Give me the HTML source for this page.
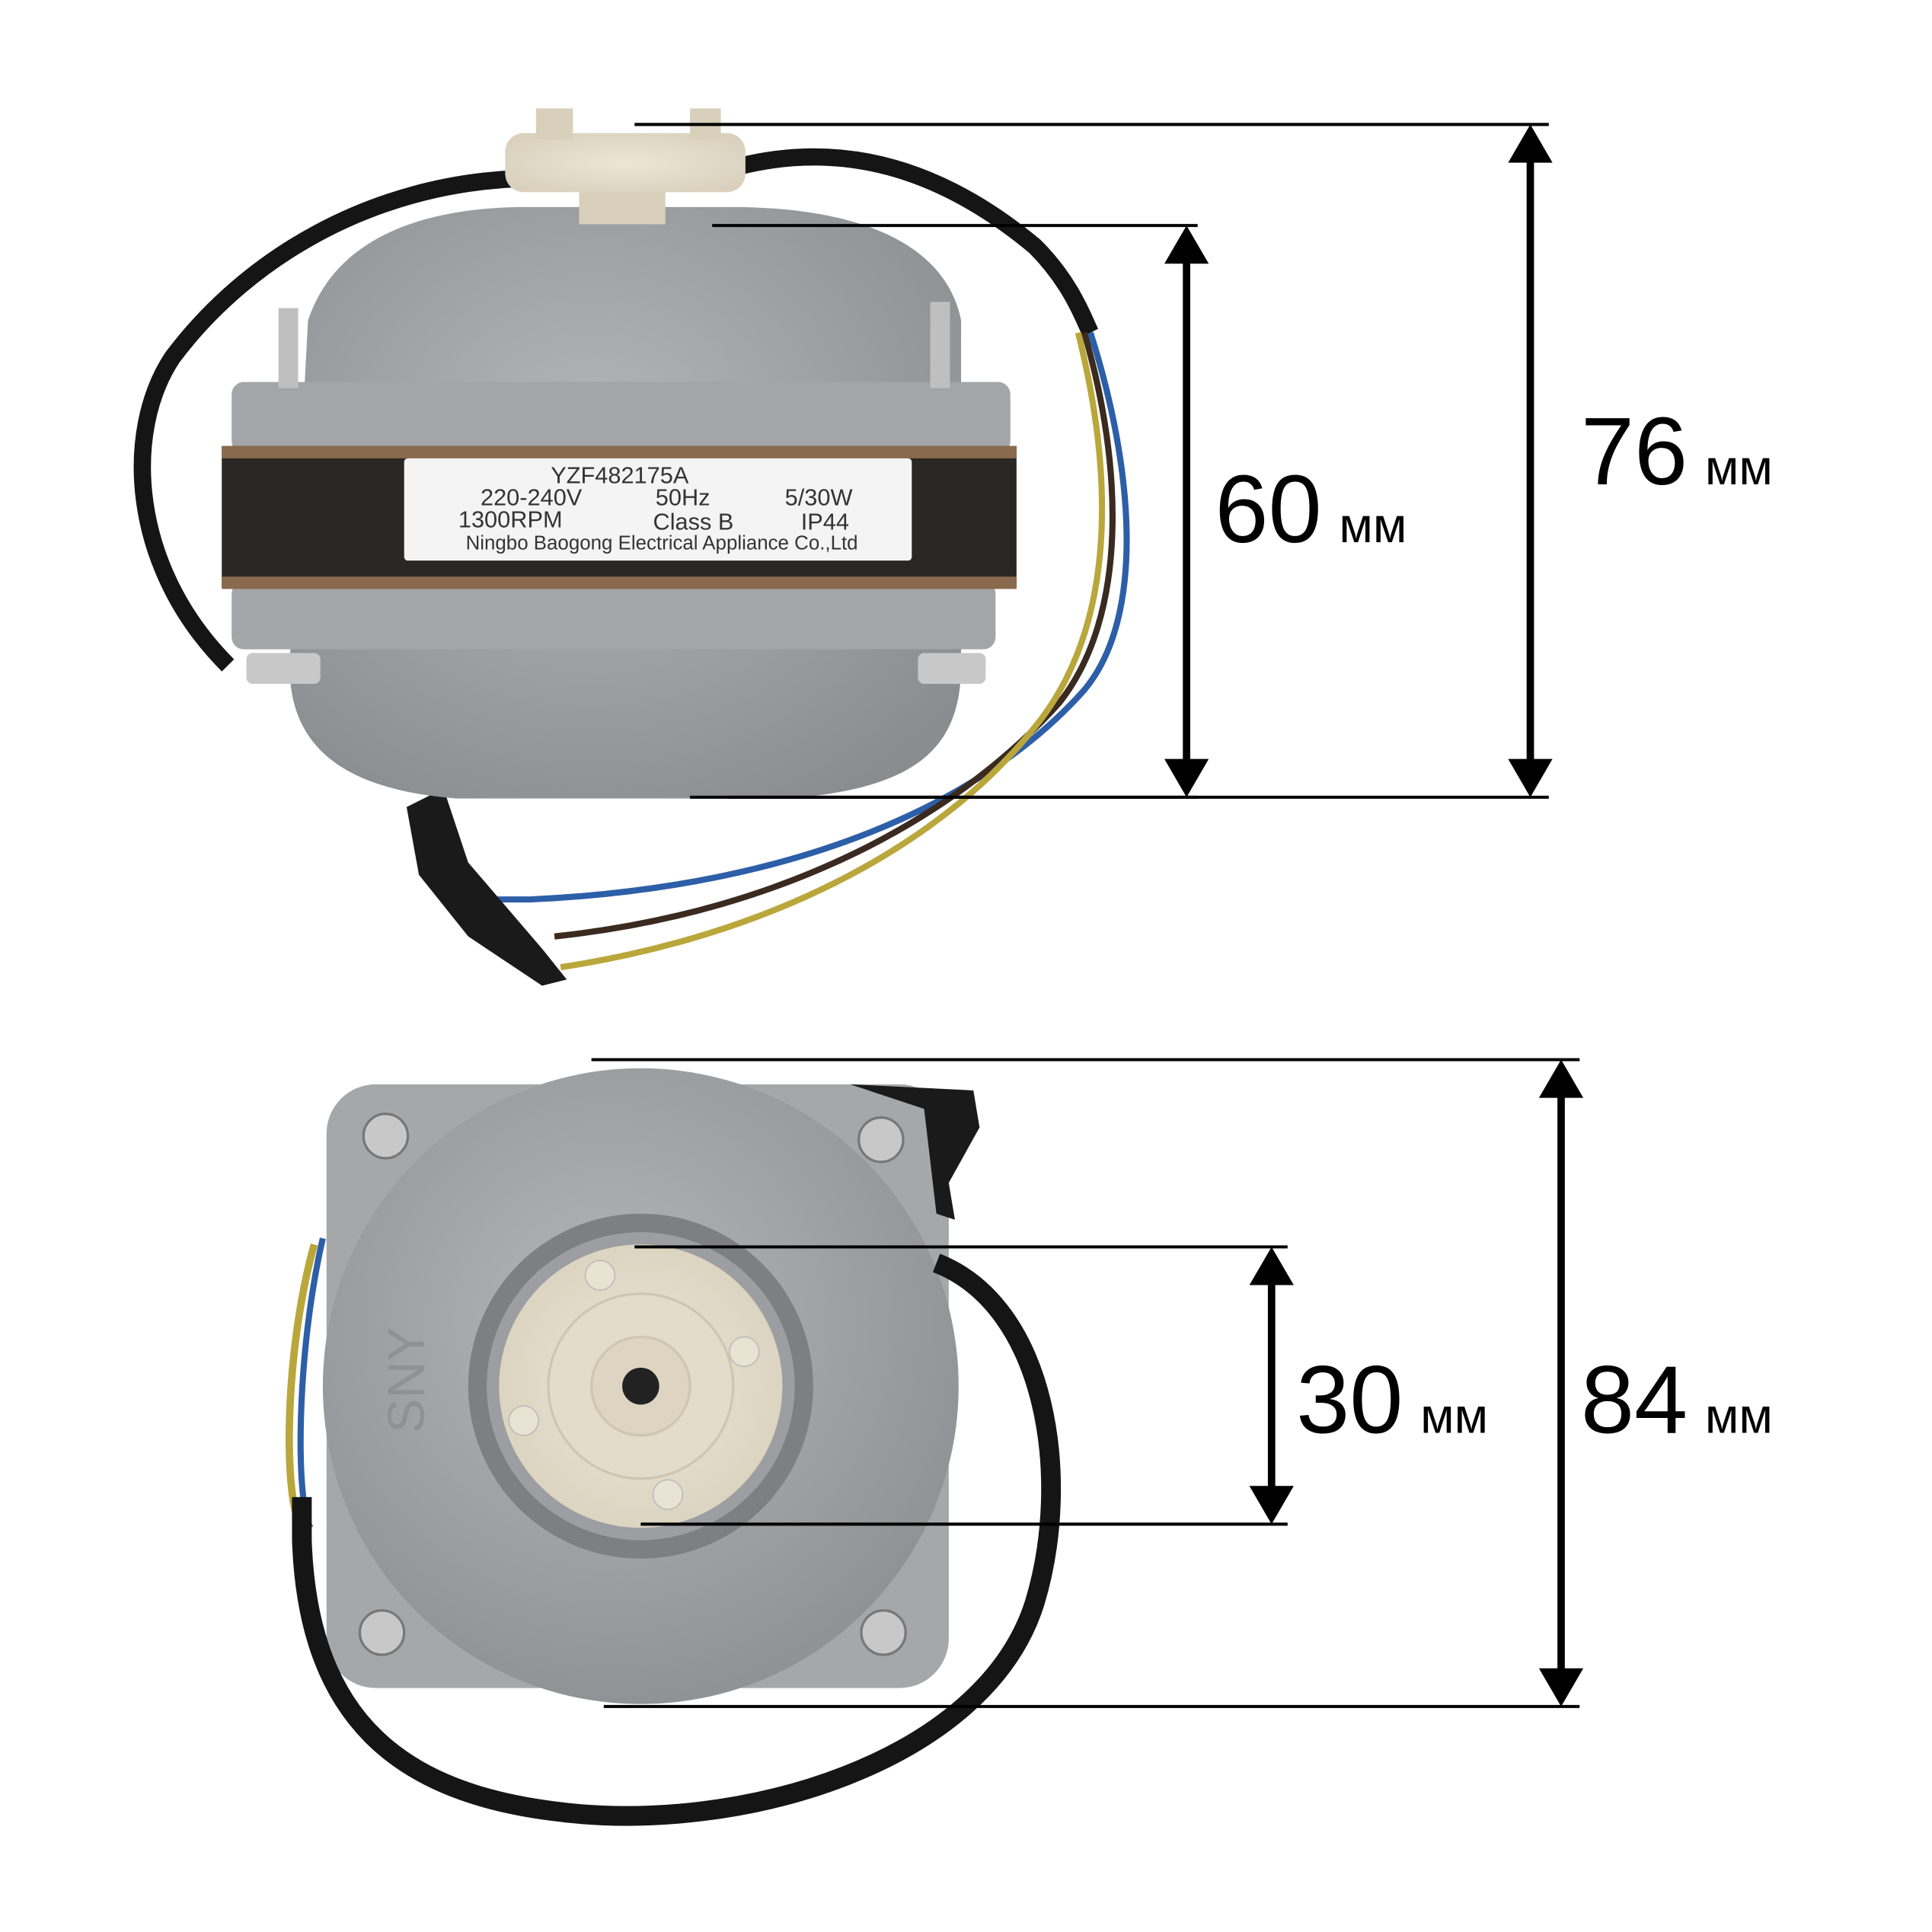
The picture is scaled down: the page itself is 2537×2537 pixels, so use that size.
<!DOCTYPE html>
<html><head><meta charset="utf-8"><style>
html,body{margin:0;padding:0;background:#fff;}
svg{display:block;}
</style></head><body>
<svg width="2537" height="2537" viewBox="0 0 1568 1568" xmlns="http://www.w3.org/2000/svg">
<defs>
<radialGradient id="al" cx="0.45" cy="0.4" r="0.7">
<stop offset="0" stop-color="#b4b6b8"/><stop offset="1" stop-color="#8a8c8f"/></radialGradient>
<radialGradient id="cap" cx="0.5" cy="0.5" r="0.6">
<stop offset="0" stop-color="#ece6d6"/><stop offset="1" stop-color="#d9d1bd"/></radialGradient>
</defs>
<rect width="1568" height="1568" fill="#fff"/>

<path d="M420,145 C300,150 200,210 140,290 C100,350 105,460 185,540" fill="none" stroke="#151515" stroke-width="14"/>
<path d="M600,135 C700,110 780,150 840,200 C870,230 880,260 885,270" fill="none" stroke="#151515" stroke-width="14"/>
<path d="M885,270 C920,380 930,500 880,560 C800,650 650,720 430,730 L400,730" fill="none" stroke="#2d5fa8" stroke-width="5"/>
<path d="M880,270 C912,380 915,500 860,570 C780,660 640,740 450,760" fill="none" stroke="#3a2a20" stroke-width="5"/>
<path d="M875,270 C905,390 905,510 840,590 C760,690 620,760 455,785" fill="none" stroke="#b9a73c" stroke-width="5"/>
<path d="M330,655 L360,640 L380,700 L440,770 L460,795 L440,800 L380,760 L340,710 Z" fill="#1a1a1a"/>
<path d="M250,260 C270,200 330,170 420,168 L600,168 C720,170 770,210 780,260 L780,540 C780,610 740,640 640,648 L370,648 C270,640 235,600 235,540 Z" fill="url(#al)"/>
<rect x="188" y="310" width="632" height="58" rx="10" fill="#a3a5a8"/>
<rect x="188" y="472" width="620" height="55" rx="10" fill="#a3a5a8"/>
<rect x="180" y="362" width="645" height="115" fill="#2a2624"/>
<rect x="180" y="362" width="645" height="10" fill="#8a6a4c"/>
<rect x="180" y="468" width="645" height="10" fill="#8a6a4c"/>
<rect x="328" y="372" width="412" height="83" rx="3" fill="#f4f4f4"/>
<g font-family="Liberation Sans, sans-serif" fill="#333" font-size="19">
<text x="447" y="392">YZF482175A</text>
<text x="390" y="410">220-240V</text><text x="532" y="410">50Hz</text><text x="637" y="410">5/30W</text>
<text x="372" y="428">1300RPM</text><text x="530" y="430">Class B</text><text x="650" y="430">IP44</text>
<text x="378" y="446" font-size="16">Ningbo Baogong Electrical Appliance Co.,Ltd</text>
</g>
<rect x="226" y="250" width="16" height="65" fill="#bfbfbf"/>
<rect x="755" y="245" width="16" height="70" fill="#bfbfbf"/>
<rect x="200" y="530" width="60" height="25" rx="5" fill="#c8c8c8"/>
<rect x="745" y="530" width="55" height="25" rx="5" fill="#c8c8c8"/>
<rect x="470" y="140" width="70" height="42" fill="#d8d0bb"/>
<rect x="410" y="108" width="195" height="48" rx="15" fill="url(#cap)"/>
<rect x="435" y="88" width="30" height="25" fill="#d8d0bb"/>
<rect x="560" y="88" width="25" height="25" fill="#d8d0bb"/>

<path d="M255,1010 C230,1100 230,1220 245,1240" fill="none" stroke="#b9a73c" stroke-width="6"/>
<path d="M262,1005 C240,1100 240,1220 252,1240" fill="none" stroke="#2d5fa8" stroke-width="5"/>
<rect x="265" y="880" width="505" height="490" rx="40" fill="#a5a7a9"/>
<circle cx="520" cy="1125" r="258" fill="url(#al)"/>
<circle cx="520" cy="1125" r="140" fill="#7d7f82"/>
<circle cx="520" cy="1125" r="125" fill="#9c9ea1"/>
<circle cx="520" cy="1125" r="115" fill="url(#cap)"/>
<circle cx="520" cy="1125" r="75" fill="#e3dccb" stroke="#cfc6b0" stroke-width="2"/>
<circle cx="520" cy="1125" r="40" fill="#ddd5c1" stroke="#cfc6b0" stroke-width="2"/>
<circle cx="520" cy="1125" r="15" fill="#222"/>
<circle cx="487" cy="1035" r="12" fill="#e9e3d3" stroke="#bbb" />
<circle cx="604" cy="1097" r="12" fill="#e9e3d3" stroke="#bbb"/>
<circle cx="425" cy="1153" r="12" fill="#e9e3d3" stroke="#bbb"/>
<circle cx="542" cy="1213" r="12" fill="#e9e3d3" stroke="#bbb"/>
<text x="0" y="0" transform="translate(333,1120) rotate(-90)" font-family="Liberation Sans, sans-serif" font-size="42" fill="#8f9194" text-anchor="middle" dominant-baseline="middle">SNY</text>
<g fill="#c8c8c8" stroke="#777" stroke-width="2">
<circle cx="313" cy="922" r="18"/><circle cx="715" cy="925" r="18"/>
<circle cx="310" cy="1325" r="18"/><circle cx="717" cy="1325" r="18"/></g>
<path d="M690,880 L790,885 L795,915 L770,960 L775,990 L760,985 L750,900 Z" fill="#1a1a1a"/>
<path d="M760,1025 C850,1060 870,1200 840,1300 C800,1430 600,1490 450,1470 C330,1455 250,1400 245,1250 L245,1215" fill="none" stroke="#151515" stroke-width="16"/>

<g stroke="#000" stroke-width="2.5">
<line x1="515" y1="101" x2="1257" y2="101"/><line x1="590" y1="647" x2="1257" y2="647"/>
<line x1="578" y1="183" x2="972" y2="183"/><line x1="560" y1="647" x2="972" y2="647"/>
<line x1="480" y1="860" x2="1282" y2="860"/><line x1="490" y1="1385" x2="1282" y2="1385"/>
<line x1="515" y1="1012" x2="1045" y2="1012"/><line x1="520" y1="1237" x2="1045" y2="1237"/>
</g>
<g stroke="#000" stroke-width="6">
<line x1="1242" y1="125" x2="1242" y2="623"/>
<line x1="963" y1="207" x2="963" y2="623"/>
<line x1="1267" y1="884" x2="1267" y2="1361"/>
<line x1="1032" y1="1036" x2="1032" y2="1213"/>
</g>
<g fill="#000">
<polygon points="1242,101 1224,132 1260,132"/><polygon points="1242,647 1224,616 1260,616"/>
<polygon points="963,183 945,214 981,214"/><polygon points="963,647 945,616 981,616"/>
<polygon points="1267,860 1249,891 1285,891"/><polygon points="1267,1385 1249,1354 1285,1354"/>
<polygon points="1032,1012 1014,1043 1050,1043"/><polygon points="1032,1237 1014,1206 1050,1206"/>
</g>
<g font-family="Liberation Sans, sans-serif" fill="#000">
<text x="1283" y="393" font-size="78">76<tspan font-size="40" dx="14">мм</tspan></text>
<text x="986" y="440" font-size="78">60<tspan font-size="40" dx="14">мм</tspan></text>
<text x="1052" y="1163" font-size="78">30<tspan font-size="40" dx="14">мм</tspan></text>
<text x="1283" y="1163" font-size="78">84<tspan font-size="40" dx="14">мм</tspan></text>
</g>
</svg>
</body></html>
